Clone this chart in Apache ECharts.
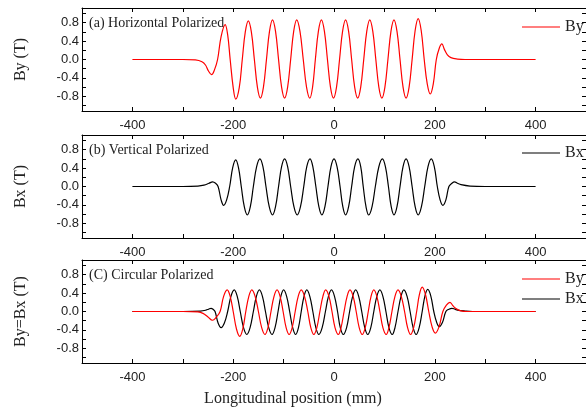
<!DOCTYPE html>
<html><head><meta charset="utf-8">
<script src="https://cdn.jsdelivr.net/npm/echarts@6/dist/echarts.min.js"></script>
<style>html,body{margin:0;padding:0;background:#fff}#c{width:586px;height:414px}</style>
</head><body><div id="c"></div>
<script>
// Panel (a): horizontal polarized, By [position mm, field T]
const aBy = [[-400,0],[-300,0],[-275,-0.01],[-262,-0.05],[-255,-0.12],[-249,-0.25],[-243,-0.33],[-237,-0.22],[-231,0],[-224,0.5],[-216,0.76],[-211,0.54],[-206,0],[-200,-0.61],[-195,-0.86],[-188,-0.61],[-182,0],[-176,0.6],[-170,0.84],[-164,0.6],[-158,0],[-152,-0.6],[-146,-0.84],[-140,-0.6],[-134,0],[-128,0.61],[-122,0.86],[-116,0.61],[-110,0],[-104,-0.6],[-98,-0.84],[-92,-0.6],[-86,0],[-80,0.61],[-74,0.86],[-67.5,0.61],[-61,0],[-54.5,-0.6],[-48,-0.84],[-42.5,-0.6],[-37,0],[-31,0.61],[-25,0.86],[-19,0.61],[-13,0],[-7,-0.6],[-1,-0.84],[5,-0.6],[11,0],[17,0.61],[23,0.86],[29,0.61],[35,0],[41,-0.6],[47,-0.84],[53,-0.6],[59,0],[65,0.61],[71,0.86],[77,0.61],[83,0],[89,-0.6],[95,-0.84],[101,-0.6],[107,0],[113,0.61],[119,0.86],[125,0.61],[131,0],[137,-0.6],[143,-0.84],[149,-0.6],[155,0],[161,0.63],[167,0.89],[173,0.63],[179,0],[185,-0.53],[191,-0.75],[197,-0.53],[203,0],[209,0.25],[214,0.34],[219,0.22],[225,0.1],[232,0.04],[245,0.01],[260,0],[400,0]];
// Panel (b): vertical polarized, Bx
const bBx = [[-400,0],[-300,0],[-270,0.01],[-258,0.03],[-248,0.07],[-241,0.1],[-235,0.07],[-230,0],[-224,-0.29],[-219,-0.41],[-213,-0.29],[-207,0],[-201,0.41],[-195,0.58],[-189.5,0.41],[-184,0],[-178,-0.44],[-172,-0.62],[-166,-0.44],[-160,0],[-153.5,0.43],[-147,0.6],[-141,0.43],[-135,0],[-128.5,-0.44],[-122,-0.62],[-116,-0.44],[-110,0],[-104,0.43],[-98,0.6],[-92,0.43],[-86,0],[-79.5,-0.44],[-73,-0.62],[-66.5,-0.44],[-60,0],[-54,0.43],[-47.5,0.6],[-42,0.43],[-36,0],[-30,-0.44],[-24,-0.62],[-18,-0.44],[-12,0],[-6,0.43],[0,0.6],[6,0.43],[12,0],[17.5,-0.44],[23,-0.62],[29,-0.44],[35,0],[41,0.43],[47.5,0.6],[53,0.43],[58,0],[63.5,-0.44],[69,-0.62],[75.5,-0.44],[82,0],[89,0.43],[96,0.6],[102,0.43],[108,0],[113.5,-0.44],[119,-0.62],[125,-0.44],[131,0],[137,0.43],[143,0.6],[149,0.43],[155,0],[161,-0.44],[167,-0.62],[173.5,-0.44],[180,0],[186.5,0.43],[193,0.6],[199,0.43],[205,0],[210.5,-0.29],[216,-0.41],[222,-0.29],[228,0],[234,0.07],[239,0.1],[245,0.07],[252,0.04],[270,0.01],[300,0],[400,0]];
// Panel (c): circular polarized, By (red) and Bx (black)
const cBy = [[-400,0],[-300,0],[-270,-0.01],[-260,-0.04],[-250,-0.12],[-241,-0.19],[-234,-0.13],[-226,0],[-219,0.33],[-212,0.47],[-206,0.33],[-200,0],[-193.5,-0.38],[-187,-0.54],[-181,-0.38],[-175,0],[-169,0.33],[-163,0.47],[-156.5,0.33],[-150,0],[-143.5,-0.35],[-137,-0.5],[-131,-0.35],[-125,0],[-119,0.33],[-113,0.47],[-107,0.33],[-101,0],[-95,-0.35],[-89,-0.5],[-83,-0.35],[-77,0],[-71,0.33],[-65,0.47],[-58.5,0.33],[-52,0],[-46,-0.35],[-40,-0.5],[-34,-0.35],[-28,0],[-22,0.33],[-16.5,0.47],[-10,0.33],[-4,0],[2,-0.35],[8.5,-0.5],[14,-0.35],[20,0],[26,0.33],[31.7,0.47],[38,0.33],[44,0],[50,-0.35],[56,-0.5],[62,-0.35],[68,0],[73.5,0.33],[79,0.47],[85,0.33],[91,0],[97,-0.35],[103.6,-0.5],[109,-0.35],[115,0],[121,0.33],[127,0.47],[133.5,0.33],[140,0],[146,-0.35],[152,-0.5],[158,-0.35],[164,0],[169.5,0.37],[175,0.53],[181.5,0.37],[188,0],[194.5,-0.33],[201,-0.47],[208.5,-0.33],[216,0],[223,0.14],[230,0.2],[235,0.14],[240,0.08],[250,0.02],[265,0],[400,0]];
const cBx = [[-400,0],[-300,0],[-265,0.01],[-254,0.03],[-249,0.05],[-244,0.07],[-240,0.05],[-236,0],[-230,-0.25],[-224,-0.35],[-217.5,-0.25],[-211,0],[-204.5,0.33],[-198,0.47],[-192,0.33],[-186,0],[-179.5,-0.35],[-173,-0.5],[-166.5,-0.35],[-160,0],[-154,0.33],[-148,0.47],[-142,0.33],[-136,0],[-129.5,-0.35],[-123,-0.5],[-117,-0.35],[-111,0],[-105.5,0.33],[-100,0.47],[-94,0.33],[-88,0],[-82,-0.35],[-76,-0.5],[-70.5,-0.35],[-65,0],[-59.5,0.33],[-54,0.47],[-48,0.33],[-42,0],[-36,-0.35],[-30,-0.5],[-23.5,-0.35],[-17,0],[-11,0.33],[-5,0.47],[1,0.33],[7,0],[12.5,-0.35],[18.5,-0.5],[25,-0.35],[31,0],[37,0.33],[43,0.47],[49,0.33],[55,0],[61,-0.35],[67,-0.5],[73,-0.35],[79,0],[85,0.33],[91,0.47],[97,0.33],[103,0],[109,-0.35],[115.5,-0.5],[121,-0.35],[127,0],[133,0.33],[138.6,0.47],[145,0.33],[151,0],[157,-0.35],[163,-0.5],[169,-0.35],[175,0],[180.5,0.34],[186,0.48],[192,0.34],[198,0],[203.5,-0.23],[209,-0.33],[215.5,-0.23],[222,0],[228,0.05],[234,0.07],[240,0.05],[245,0.03],[260,0.01],[275,0],[400,0]];
// ticks
const xTicks = [-400,-300,-200,-100,0,100,200,300,400];
const xLabels = [-400,-200,0,200,400];
const yTicks = [-1,-0.8,-0.6,-0.4,-0.2,0,0.2,0.4,0.6,0.8,1];
const yLabels = [-0.8,-0.4,0,0.4,0.8];
const yTitles = ['By (T)','Bx (T)','By=Bx (T)'];
const notes = ['(a) Horizontal Polarized','(b) Vertical Polarized','(C) Circular Polarized'];

const tops = [8, 135, 260];
const H = 103;
const serif = 'Liberation Serif';
const sans = 'Liberation Sans';

const grid = [], xAxis = [], yAxis = [], graphic = [];
tops.forEach((t, i) => {
  grid.push({left: 82, width: 505, top: t, height: H, containLabel: false});
  const axLine = {show: true, onZero: false, lineStyle: {color: '#000', width: 1}};
  xAxis.push({type: 'value', gridIndex: i, min: -500, max: 500, position: 'bottom',
    axisLine: axLine, splitLine: {show: false},
    axisTick: {inside: true, length: 4, customValues: xTicks, lineStyle: {color: '#000'}},
    axisLabel: {customValues: xLabels, margin: 8, color: '#222', fontFamily: sans, fontSize: 13}});
  xAxis.push({type: 'value', gridIndex: i, min: -500, max: 500, position: 'top',
    axisLine: axLine, splitLine: {show: false},
    axisTick: {inside: true, length: 4, customValues: xTicks, lineStyle: {color: '#000'}},
    axisLabel: {show: false}});
  yAxis.push({type: 'value', gridIndex: i, min: -1.12, max: 1.12, position: 'left',
    axisLine: axLine, splitLine: {show: false},
    axisTick: {inside: true, length: 4, customValues: yTicks, lineStyle: {color: '#000'}},
    axisLabel: {customValues: yLabels, margin: 3, color: '#222', fontFamily: sans, fontSize: 13,
      formatter: v => Number(v).toFixed(1)},
    name: yTitles[i], nameLocation: 'middle', nameGap: 53, nameRotate: 90,
    nameTextStyle: {fontFamily: serif, fontSize: 16, color: '#222'}});
  yAxis.push({type: 'value', gridIndex: i, min: -1.12, max: 1.12, position: 'right',
    axisLine: axLine, splitLine: {show: false},
    axisTick: {inside: true, length: 4, customValues: yTicks, lineStyle: {color: '#000'}},
    axisLabel: {show: false}});
  graphic.push({type: 'text', left: 89, top: t + 8,
    style: {text: notes[i], font: '14px "Liberation Serif"', fill: '#222'}});
});
graphic.push({type: 'text', left: 'center', top: 391,
  style: {text: 'Longitudinal position (mm)', font: '16px "Liberation Serif"', fill: '#222'}});

const mk = (name, xi, yi, data, color) => ({
  name, type: 'line', xAxisIndex: xi, yAxisIndex: yi, data, showSymbol: false, symbol: 'none',
  smooth: 0.4, lineStyle: {color, width: 1.2}, itemStyle: {color}, animation: false});

const series = [
  mk('By', 0, 0, aBy, '#ff0000'),
  mk('Bx', 2, 2, bBx, '#000000'),
  mk('Bx', 4, 4, cBx, '#000000'),
  mk('By', 4, 4, cBy, '#ff0000'),
];

const legStyle = {fontFamily: serif, fontSize: 16, color: '#222'};
const legCommon = {icon: 'rect', itemWidth: 38, itemHeight: 1.2, itemGap: 4, textStyle: legStyle, selectedMode: false, padding: 0};
const legend = [
  Object.assign({left: 522, top: 19, data: ['By']}, legCommon),
  Object.assign({left: 522, top: 145, data: ['Bx']}, legCommon),
  Object.assign({left: 522, top: 271, orient: 'vertical', data: ['By', 'Bx']}, legCommon),
];

const chart = echarts.init(document.getElementById('c'), null, {renderer: 'canvas'});
chart.setOption({animation: false, backgroundColor: '#fff', grid, xAxis, yAxis, series, legend, graphic});
</script></body></html>
